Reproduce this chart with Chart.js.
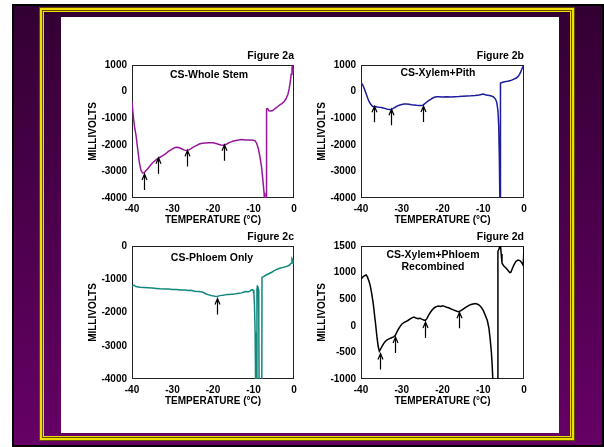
<!DOCTYPE html>
<html>
<head>
<meta charset="utf-8">
<script src="https://cdn.jsdelivr.net/npm/chart.js@4.4.1/dist/chart.umd.min.js"></script>
<style>
  body { margin: 0; width: 604px; height: 447px; background: #fff; position: relative; overflow: hidden;
         font-family: 'Liberation Sans', Arial, sans-serif; }
  #slide { position: absolute; left: 12px; top: 4px; width: 588px; height: 439px; border: 2px solid #000;
           background: linear-gradient(#330033, #660066); }
  #frame { position: absolute; left: 39px; top: 7px; width: 536px; height: 434px;
           box-shadow: inset 0 0 0 1px #5e5000, inset 0 0 0 3px #f2dc00, inset 0 0 0 4px #5e5000, inset 0 0 0 5px #f2dc00; }
  #paper { position: absolute; left: 61px; top: 17px; width: 498px; height: 416px; background: #fff; }
  canvas { position: absolute; }
  #c2a { left: 80px; top: 40px; }
  #c2b { left: 309px; top: 40px; }
  #c2c { left: 80px; top: 221px; }
  #c2d { left: 309px; top: 221px; }
  .lbl { position: absolute; transform: translate(-50%, -50%); font-weight: bold; font-size: 10.5px;
         line-height: 11.6px; text-align: center; color: #000; white-space: nowrap; }
</style>
</head>
<body>
<div id="slide"></div>
<div id="frame"></div>
<div id="paper"></div>
<canvas id="c2a" width="222" height="187"></canvas>
<canvas id="c2b" width="223" height="187"></canvas>
<canvas id="c2c" width="222" height="187"></canvas>
<canvas id="c2d" width="223" height="187"></canvas>
<div class="lbl" style="left:209px;top:75px">CS-Whole Stem</div>
<div class="lbl" style="left:438px;top:73px">CS-Xylem+Pith</div>
<div class="lbl" style="left:212px;top:258px">CS-Phloem Only</div>
<div class="lbl" style="left:433px;top:261px">CS-Xylem+Phloem<br>Recombined</div>
<script>
// Figure 2a - whole stem
const fig2aTemp = [-40, -39.7, -39.4, -39, -38.6, -38.2, -37.8, -37.4, -37, -36.6, -36, -35.5, -35, -34.5, -34, -33.5,
  -33, -32.5, -32, -31.5, -31, -30.5, -30, -29.5, -29, -28.5, -28, -27.5, -27, -26.5, -26, -25.5, -25, -24.5, -24,
  -23.5, -23, -22, -21, -20, -19, -18.5, -18, -17.5, -17, -16.5, -16, -15.5, -15, -14, -13, -12, -11, -10, -9.6,
  -9.2, -8.8, -8.4, -8, -7.7, -7.4, -7.2, -6.9, -6.8, -6.75, -6.5, -6.2, -5.8, -5.4, -5, -4.5, -4, -3.5, -3, -2.5,
  -2, -1.5, -1.2, -0.9, -0.7, -0.5, -0.35, -0.2, -0.1, 0];
const fig2aMv = [-380, -900, -1300, -1650, -2150, -2650, -2950, -3060, -3050, -2980, -2880, -2780, -2690, -2620, -2560,
  -2500, -2460, -2420, -2370, -2310, -2250, -2200, -2150, -2110, -2090, -2100, -2130, -2170, -2200, -2210, -2190,
  -2150, -2100, -2060, -2020, -1980, -1950, -1930, -1920, -1925, -1960, -1990, -2010, -2020, -2000, -1960, -1920,
  -1890, -1860, -1830, -1805, -1815, -1820, -1830, -1850, -1950, -2150, -2450, -2850, -3300, -3800, -4300, -4500,
  -4500, -650, -640, -720, -730, -720, -680, -620, -560, -500, -450, -380, -280, -100, 100, 380, 650, 900, 1000,
  780, 700, 850];
const fig2aArrowTemp = [-37.1, -33.6, -26.3, -17.4];
const fig2aArrowMv = [-3100, -2490, -2210, -2000];

// Figure 2b - xylem + pith
const fig2bTemp = [-40, -39.6, -39.2, -38.8, -38.4, -38, -37.6, -37.2, -36.8, -36.4, -36, -35.5, -35, -34.5, -34,
  -33.5, -33, -32.6, -32.2, -31.8, -31.2, -30.6, -30, -29.4, -28.8, -28.2, -27.6, -27, -26.4, -25.8, -25.2, -24.8,
  -24.4, -24, -23.5, -23, -22.5, -22, -21.5, -21, -20, -19, -18, -17, -16, -15, -14, -13, -12, -11, -10.5, -10,
  -9.5, -9, -8.5, -8, -7.5, -7, -6.7, -6.4, -6.2, -6.05, -5.95, -5.85, -5.8, -5.75, -5.4, -5, -4.5, -4, -3.5, -3,
  -2.5, -2, -1.5, -1.1, -0.8, -0.5, -0.3, -0.1, 0];
const fig2bMv = [330, 260, 120, -50, -230, -380, -480, -550, -570, -560, -575, -590, -600, -620, -640, -660, -675,
  -670, -640, -600, -550, -510, -485, -470, -470, -480, -495, -505, -515, -520, -525, -510, -460, -410, -350, -300,
  -250, -215, -195, -190, -200, -195, -205, -190, -185, -175, -165, -160, -150, -130, -110, -95, -120, -135, -150,
  -165, -200, -280, -400, -700, -1300, -2500, -3800, -4500, -4500, 320, 340, 360, 380, 390, 410, 430, 470, 500,
  560, 650, 740, 860, 930, 960, 980];
const fig2bArrowTemp = [-36.7, -32.6, -24.9];
const fig2bArrowMv = [-550, -660, -540];

// Figure 2c - phloem only
const fig2cTemp = [-40, -39.5, -39, -38.5, -38, -37, -36, -35, -34, -33, -32, -31, -30, -29, -28, -27, -26, -25.5,
  -25, -24.5, -24, -23.5, -23, -22.5, -22, -21.5, -21, -20.5, -20, -19.5, -19, -18.5, -18, -17.5, -17, -16.5, -16,
  -15.5, -15, -14.5, -14, -13.5, -13, -12.5, -12, -11.5, -11, -10.6, -10.3, -10.1, -9.9, -9.75, -9.6, -9.5, -9.4,
  -9.2, -9.15, -9.05, -8.9, -8.8, -8.7, -8.6, -7.95, -7.9, -7.5, -7, -6.5, -6, -5.5, -5, -4.5, -4, -3.5, -3, -2.5,
  -2, -1.5, -1, -0.7, -0.5, -0.3, -0.1, 0];
const fig2cMv = [-1200, -1180, -1220, -1230, -1240, -1245, -1255, -1265, -1275, -1285, -1290, -1295, -1305, -1310,
  -1320, -1325, -1335, -1330, -1345, -1360, -1365, -1370, -1375, -1390, -1420, -1450, -1470, -1490, -1500, -1510,
  -1515, -1500, -1485, -1480, -1470, -1460, -1455, -1450, -1450, -1440, -1430, -1420, -1410, -1390, -1370, -1375,
  -1370, -1330, -1310, -1330, -1450, -1800, -2600, -3600, -4500, -4500, -1300, -1210, -1230, -1300, -2200, -4500,
  -4500, -940, -920, -880, -850, -820, -790, -750, -720, -690, -670, -650, -640, -620, -600, -560, -520, -380, -420,
  -500, -470];
const fig2cArrowTemp = [-18.9];
const fig2cArrowMv = [-1580];

// Figure 2d - xylem + phloem recombined
const fig2dTemp = [-40, -39.7, -39.4, -39, -38.7, -38.4, -38, -37.7, -37.4, -37, -36.7, -36.4, -36.1, -35.8, -35.5,
  -35.2, -34.8, -34.4, -34, -33.5, -33, -32.5, -32, -31.6, -31.2, -30.8, -30.4, -30, -29.5, -29, -28.5, -28, -27.5,
  -27, -26.5, -26, -25.5, -25, -24.6, -24.2, -23.8, -23.4, -23, -22.5, -22, -21.5, -21, -20.5, -20, -19.5, -19,
  -18.5, -18, -17.5, -17, -16.5, -16, -15.5, -15, -14.5, -14, -13.5, -13, -12.5, -12, -11.5, -11, -10.5, -10, -9.5,
  -9, -8.6, -8.3, -8, -7.8, -7.6, -6.45, -6.4, -6.1, -5.8, -5.6, -5.4, -5, -4.5, -4, -3.5, -3.2, -3, -2.5, -2, -1.5,
  -1, -0.6, -0.3, -0.15, 0];
const fig2dMv = [890, 900, 930, 945, 955, 915, 830, 740, 620, 420, 220, 20, -200, -380, -480, -440, -380, -330, -290,
  -260, -240, -225, -210, -180, -120, -60, -10, 30, 60, 80, 100, 125, 150, 165, 145, 135, 140, 120, 110, 100, 140,
  200, 250, 300, 340, 360, 370, 365, 375, 365, 350, 340, 320, 305, 290, 275, 265, 285, 310, 335, 360, 385, 400, 410,
  420, 410, 390, 350, 290, 200, 100, -50, -250, -500, -750, -1100, -1100, 1400, 1450, 1550, 1350, 1180, 1130, 1090,
  1050, 1000, 1010, 1050, 1140, 1210, 1235, 1225, 1190, 1150, 1200, 1480];
const fig2dArrowTemp = [-35.3, -31.6, -24.3, -16];
const fig2dArrowMv = [-520, -210, 70, 255];

const tempTicks = [-40, -30, -20, -10, 0];

Chart.defaults.font.family = "'Liberation Sans', Arial, sans-serif";
Chart.defaults.color = '#000';

function toPoints(xs, ys) {
    return xs.map((x, i) => ({ x: x, y: ys[i] }));
}

// box round the plot + the little up-arrows
function framePlugin(arrowTemp, arrowMv) {
    return {
        id: 'frameArrows',
        beforeDatasetsDraw(chart) {
            const a = chart.chartArea, ctx = chart.ctx;
            ctx.save();
            ctx.strokeStyle = '#222';
            ctx.lineWidth = 1;
            ctx.strokeRect(Math.round(a.left) + 0.5, Math.round(a.top) + 0.5,
                Math.round(a.right - a.left) - 1, Math.round(a.bottom - a.top) - 1);
            ctx.restore();
        },
        afterDatasetsDraw(chart) {
            const ctx = chart.ctx, xs = chart.scales.x, ys = chart.scales.y;
            ctx.save();
            ctx.strokeStyle = '#000';
            ctx.lineWidth = 1.2;
            arrowTemp.forEach((t, i) => {
                const x = Math.round(xs.getPixelForValue(t)) + 0.5;
                const y = ys.getPixelForValue(arrowMv[i]);
                ctx.beginPath();
                ctx.moveTo(x, y + 16);
                ctx.lineTo(x, y);
                ctx.moveTo(x - 2.5, y + 6);
                ctx.lineTo(x, y);
                ctx.lineTo(x + 2.5, y + 6);
                ctx.stroke();
            });
            ctx.restore();
        }
    };
}

function drawPanel(id, title, temps, mvs, color, yMin, yMax, yStep, arrowTemp, arrowMv) {
    new Chart(document.getElementById(id).getContext('2d'), {
        type: 'line',
        data: {
            datasets: [{
                data: toPoints(temps, mvs),
                borderColor: color,
                borderWidth: 1.5,
                pointRadius: 0,
                tension: 0,
                fill: false,
                clip: 0
            }]
        },
        options: {
            responsive: false,
            animation: false,
            events: [],
            layout: { padding: { left: 0, top: 0, bottom: 0, right: 8 } },
            plugins: {
                legend: { display: false },
                tooltip: { enabled: false },
                title: {
                    display: true, text: title, align: 'end', color: '#000',
                    font: { size: 10.5, weight: 'bold', lineHeight: 1.2 },
                    padding: { top: 9.7, bottom: 2.7 }
                }
            },
            scales: {
                x: {
                    type: 'linear', min: -40, max: 0,
                    grid: { display: false, drawTicks: false },
                    border: { display: false },
                    afterBuildTicks: s => { s.ticks = tempTicks.map(v => ({ value: v })); },
                    ticks: { padding: 5, maxRotation: 0, color: '#000', font: { size: 10, weight: 'bold' } },
                    title: {
                        display: true, text: 'TEMPERATURE (°C)', color: '#000',
                        font: { size: 10, weight: 'bold', lineHeight: 1.2 }, padding: { top: 0, bottom: 0.5 }
                    },
                    afterFit: s => { s.height = 29; s.paddingLeft = 0; s.paddingRight = 0; }
                },
                y: {
                    min: yMin, max: yMax,
                    grid: { display: false, drawTicks: false },
                    border: { display: false },
                    ticks: {
                        stepSize: yStep, padding: 5, color: '#000', font: { size: 10, weight: 'bold' },
                        format: { useGrouping: false }
                    },
                    title: {
                        display: true, text: 'MILLIVOLTS', color: '#000',
                        font: { size: 10, weight: 'bold', lineHeight: 1.2 }, padding: { top: 7, bottom: 0 }
                    },
                    afterFit: s => { s.width = 52; s.paddingTop = 0; s.paddingBottom = 0; }
                }
            }
        },
        plugins: [framePlugin(arrowTemp, arrowMv)]
    });
}

drawPanel('c2a', 'Figure 2a', fig2aTemp, fig2aMv, '#96189a', -4000, 1000, 1000, fig2aArrowTemp, fig2aArrowMv);
drawPanel('c2b', 'Figure 2b', fig2bTemp, fig2bMv, '#1c1c9c', -4000, 1000, 1000, fig2bArrowTemp, fig2bArrowMv);
drawPanel('c2c', 'Figure 2c', fig2cTemp, fig2cMv, '#12877d', -4000, 0, 1000, fig2cArrowTemp, fig2cArrowMv);
drawPanel('c2d', 'Figure 2d', fig2dTemp, fig2dMv, '#000000', -1000, 1500, 500, fig2dArrowTemp, fig2dArrowMv);
</script>
</body>
</html>
